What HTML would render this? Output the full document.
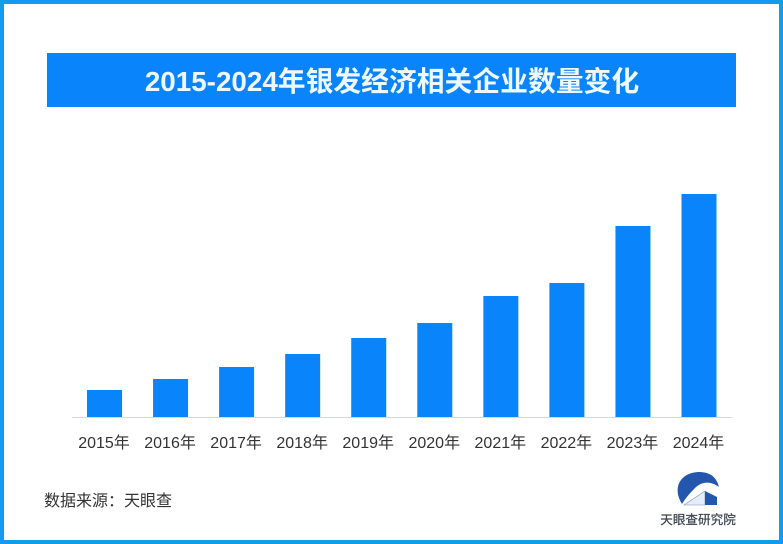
<!DOCTYPE html>
<html lang="zh">
<head>
<meta charset="utf-8">
<title>2015-2024年银发经济相关企业数量变化</title>
<style>
html,body{margin:0;padding:0;background:#fff}
#frame{position:relative;width:783px;height:544px;overflow:hidden;background:#fff;font-family:"Liberation Sans","Noto Sans CJK SC",sans-serif}
#chart{position:absolute;left:0;top:0}
</style>
</head>
<body>
<div id="frame">
<svg id="chart" width="783" height="544" viewBox="0 0 783 544" xmlns="http://www.w3.org/2000/svg">
  <rect x="2" y="2" width="779" height="540" fill="#fff" stroke="#149bed" stroke-width="4"/>
  <rect x="47" y="53" width="689" height="54" fill="#0a84fb"/>
  <text x="392" y="91" text-anchor="middle" font-size="27.8" font-weight="700" fill="#eef8ff">2015-2024年银发经济相关企业数量变化</text>
  <g id="bars"></g>
  <line x1="72" y1="417.5" x2="732" y2="417.5" stroke="#d4d8dc" stroke-width="1"/>
  <g id="labels"></g>
  <text x="44" y="506" font-size="16" fill="#333">数据来源：天眼查</text>
  <g>
    <path d="M682 504 C672 488 680 473 698 472 C708 472 716 475 719 487 C711 481 702 481 695 488 C689 494 685 499 682 504 Z" fill="#2257ad"/>
    <path d="M684 505 L705 491 L705 505 Z" fill="#e4edf8" stroke="#7d93b5" stroke-width="0.6"/>
    <path d="M705 491 L717 497 L717 505 L705 505 Z" fill="#2257ad"/>
    <text x="698" y="524" text-anchor="middle" font-size="12.6" font-weight="400" stroke="#3f4650" stroke-width="0.25" fill="#3f4650">天眼查研究院</text>
  </g>
</svg>
</div>
<script>
const categories = ["2015年","2016年","2017年","2018年","2019年","2020年","2021年","2022年","2023年","2024年"];
const companyCounts = [27,38,50,63,79,94,121,134,191,223];
const valueMax = 223;

const SVG_NS = "http://www.w3.org/2000/svg";
const baselineY = 417;
const plotHeight = 223;
const firstCenter = 104.5;
const lastCenter = 699;
const barWidth = 35;

function xScale(i){
  return firstCenter + i * (lastCenter - firstCenter) / (categories.length - 1);
}
function yScale(v){
  return baselineY - v / valueMax * plotHeight;
}

const barsGroup = document.getElementById("bars");
const labelsGroup = document.getElementById("labels");
categories.forEach(function(cat, i){
  const bar = document.createElementNS(SVG_NS, "rect");
  bar.setAttribute("x", xScale(i) - barWidth / 2);
  bar.setAttribute("y", yScale(companyCounts[i]));
  bar.setAttribute("width", barWidth);
  bar.setAttribute("height", baselineY - yScale(companyCounts[i]));
  bar.setAttribute("fill", "#0a84fb");
  
  
  barsGroup.appendChild(bar);

  const label = document.createElementNS(SVG_NS, "text");
  label.setAttribute("x", xScale(i) - 0.5);
  label.setAttribute("y", 448);
  label.setAttribute("text-anchor", "middle");
  label.setAttribute("font-size", "16");
  label.setAttribute("fill", "#333");
  label.textContent = cat;
  
  
  labelsGroup.appendChild(label);
});
</script>
</body>
</html>
